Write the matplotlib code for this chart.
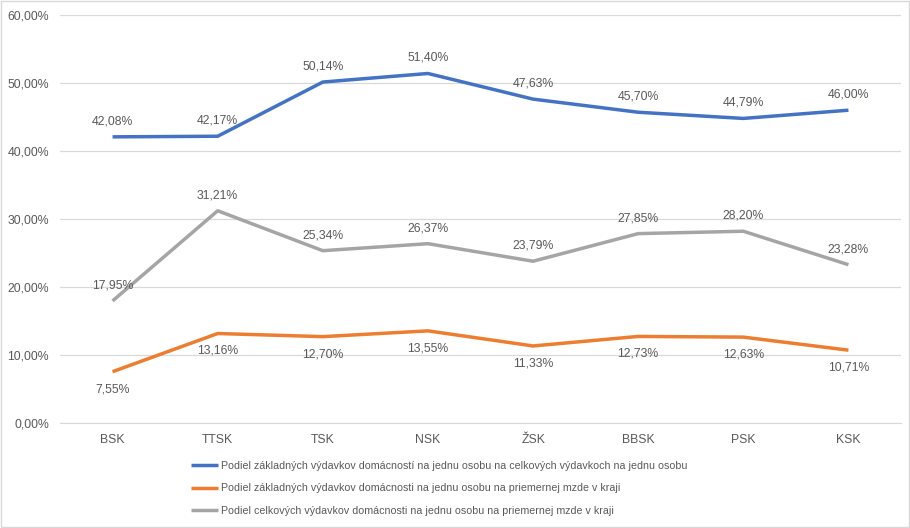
import matplotlib
matplotlib.use("Agg")
import matplotlib.pyplot as plt
from matplotlib.ticker import FuncFormatter

categories = ["BSK", "TTSK", "TSK", "NSK", "ŽSK", "BBSK", "PSK", "KSK"]
blue_vals = [42.08, 42.17, 50.14, 51.40, 47.63, 45.70, 44.79, 46.00]
orange_vals = [7.55, 13.16, 12.70, 13.55, 11.33, 12.73, 12.63, 10.71]
gray_vals = [17.95, 31.21, 25.34, 26.37, 23.79, 27.85, 28.20, 23.28]
series_names = [
    "Podiel základných výdavkov domácností na jednu osobu na celkových výdavkoch na jednu osobu",
    "Podiel základných výdavkov domácnosti na jednu osobu na priemernej mzde v kraji",
    "Podiel celkových výdavkov domácnosti na jednu osobu na priemernej mzde v kraji",
]
colors = ["#4472C4", "#ED7D31", "#A5A5A5"]
text_color = "#595959"
fs = 8.8
fs_leg = 7.7

def fmt(v):
    return f"{v:.2f}".replace(".", ",") + "%"

plt.rcParams['font.family'] = ['Liberation Sans', 'DejaVu Sans']
fig = plt.figure(figsize=(9.1, 5.28), dpi=100)
ax = fig.add_axes([60/910, 1-423/528, 841/910, 408/528])

x = list(range(len(categories)))
lines = []
for vals, c, name in zip([blue_vals, orange_vals, gray_vals], colors, series_names):
    l, = ax.plot(x, vals, color=c, lw=2.5, solid_joinstyle='round', solid_capstyle='butt', label=name, zorder=3)
    lines.append(l)

for i, v in enumerate(blue_vals):
    ax.annotate(fmt(v), (i, v), xytext=(0, 11.2), textcoords="offset points",
                ha="center", va="center", fontsize=fs, color=text_color)
for i, v in enumerate(orange_vals):
    ax.annotate(fmt(v), (i, v), xytext=(0, -12.5), textcoords="offset points",
                ha="center", va="center", fontsize=fs, color=text_color)
for i, v in enumerate(gray_vals):
    ax.annotate(fmt(v), (i, v), xytext=(0, 11.2), textcoords="offset points",
                ha="center", va="center", fontsize=fs, color=text_color)

ax.set_xlim(-0.5, len(categories) - 0.5)
ax.set_ylim(0, 60)
ax.set_yticks(range(0, 61, 10))
ax.yaxis.set_major_formatter(FuncFormatter(lambda v, p: fmt(v)))
ax.set_xticks(x)
ax.set_xticklabels(categories)
ax.tick_params(axis='both', length=0, labelsize=fs, labelcolor=text_color)
ax.tick_params(axis='x', pad=8)
ax.tick_params(axis='y', pad=8)
ax.grid(axis='y', color="#D9D9D9", lw=0.9, zorder=0)
ax.set_axisbelow(True)
for s in ax.spines.values():
    s.set_visible(False)
ax.spines['bottom'].set_visible(True)
ax.spines['bottom'].set_color("#D9D9D9")

leg = fig.legend(handles=lines, loc="upper left", bbox_to_anchor=(191/910, 1-461/528),
                 frameon=False, fontsize=fs_leg, handlelength=2.5, handletextpad=0.3,
                 labelspacing=1.15, borderaxespad=0, borderpad=0)
for t in leg.get_texts():
    t.set_color(text_color)

fig.patches.append(plt.Rectangle((0.001, 0.001), 0.998, 0.998, transform=fig.transFigure,
                                 fill=False, edgecolor="#D9D9D9", lw=1))
fig.savefig("out.png", dpi=100)
